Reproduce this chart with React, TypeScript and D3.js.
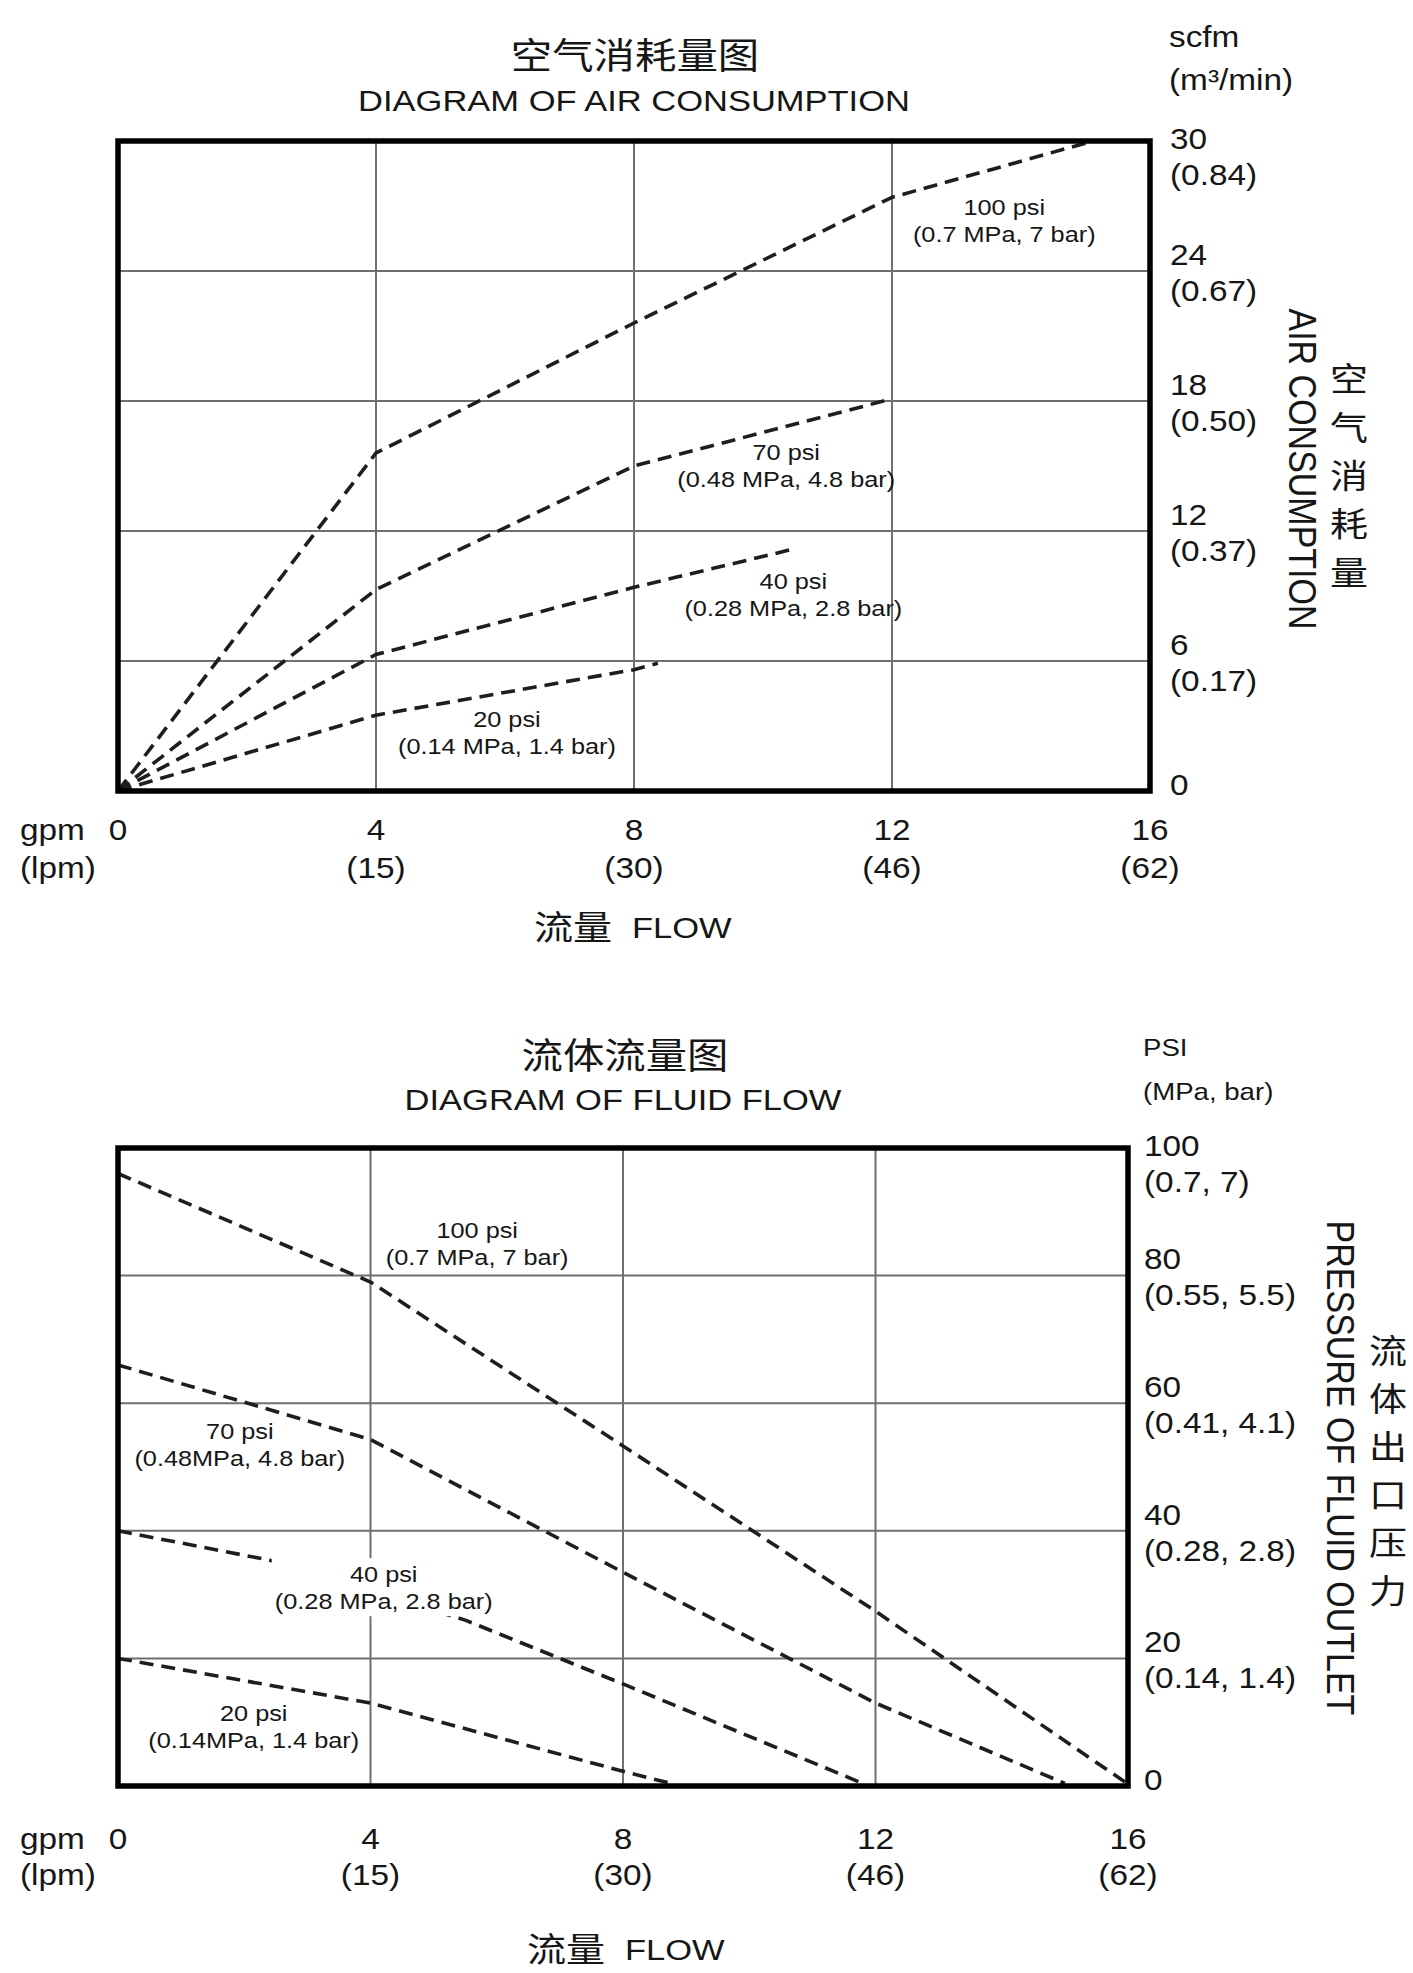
import React from "react";
import * as d3 from "d3";

// ---------- data ----------
const flowTicks = [0, 4, 8, 12, 16];
const flowLpm = ["", "(15)", "(30)", "(46)", "(62)"];

const airTicks = [0, 6, 12, 18, 24, 30];
const airM3 = ["", "(0.17)", "(0.37)", "(0.50)", "(0.67)", "(0.84)"];

const pressTicks = [0, 20, 40, 60, 80, 100];
const pressMpaBar = ["", "(0.14, 1.4)", "(0.28, 2.8)", "(0.41, 4.1)", "(0.55, 5.5)", "(0.7, 7)"];

// Air consumption: [flow gpm, air scfm]
const air100: [number, number][] = [[0, 0], [4, 15.6], [8, 21.6], [12, 27.4], [15, 29.9]];
const air70: [number, number][] = [[0, 0], [4, 9.3], [8, 15.0], [12, 18.1]];
const air40: [number, number][] = [[0, 0], [4, 6.3], [8, 9.4], [10.45, 11.15]];
const air20: [number, number][] = [[0, 0], [4, 3.5], [8, 5.6], [8.37, 5.9]];

// Fluid flow: [flow gpm, outlet pressure psi]
const fluid100: [number, number][] = [[0, 96], [4, 79], [8, 53.3], [12, 27.4], [16, 0.3]];
const fluid70: [number, number][] = [[0, 66], [4, 54.3], [8, 33.5], [12, 13], [15, 0.4]];
const fluid40: [number, number][] = [[0, 40], [2.4, 35.4], [5.5, 26], [8, 16], [11.8, 0.4]];
const fluid20: [number, number][] = [[0, 20], [4, 13], [8, 2.3], [8.8, 0.3]];

const airLabels = [
  ["100 psi", "(0.7 MPa, 7 bar)"],
  ["70 psi", "(0.48 MPa, 4.8 bar)"],
  ["40 psi", "(0.28 MPa, 2.8 bar)"],
  ["20 psi", "(0.14 MPa, 1.4 bar)"],
];
const fluidLabels = [
  ["100 psi", "(0.7 MPa, 7 bar)"],
  ["70 psi", "(0.48MPa, 4.8 bar)"],
  ["40 psi", "(0.28 MPa, 2.8 bar)"],
  ["20 psi", "(0.14MPa, 1.4 bar)"],
];
// label anchors in data units (flow, value)
const airLabelAt: [number, number][] = [[13.74, 26.95], [10.36, 15.6], [10.47, 9.65], [6.03, 3.28]];
const fluidLabelAt: [number, number][] = [[5.69, 87.1], [1.93, 55.5], [4.21, 33.2], [2.15, 11.4]];

// ---------- style ----------
const INK = "#161616";
const LATIN = "'Liberation Sans', Arial, Helvetica, sans-serif";
const CJK = "'Noto Sans CJK SC', 'Noto Sans CJK JP', sans-serif";
const SX = 1.15;

function T({ x, y, size, anchor = "start", family = LATIN, children }: any) {
  return (
    <text
      transform={`translate(${x},${y}) scale(${SX},1)`}
      textAnchor={anchor}
      dominantBaseline="central"
      fontSize={size}
      fontFamily={family}
      fill={INK}
    >
      {children}
    </text>
  );
}

function Chart(props: any) {
  const {
    left, right, top, bottom, yMax, yTicks, ySub, series, labels, labelAt, knockout,
    tickX, unit1, unit2, unitY1, unitY2, unitSize,
    xNumY, xSubY, flowTitleY, flowTitleX,
    titleCn, titleEn, titleCnX, titleCnY, titleEnX, titleEnY,
    vEn, vEnX, vEnY, vCn, vCnX, vCnY0, vCnStep,
  } = props;
  const x = d3.scaleLinear().domain([0, 16]).range([left, right]);
  const y = d3.scaleLinear().domain([0, yMax]).range([bottom, top]);
  const line = d3.line<[number, number]>().x((d) => x(d[0])).y((d) => y(d[1]));
  const n = yTicks.length;

  return (
    <g>
      {/* grid */}
      {flowTicks.slice(1, -1).map((t: number) => (
        <line key={"gx" + t} x1={x(t)} x2={x(t)} y1={top} y2={bottom} stroke="#6f6f6f" strokeWidth={2} />
      ))}
      {yTicks.slice(1, -1).map((t: number) => (
        <line key={"gy" + t} x1={left} x2={right} y1={y(t)} y2={y(t)} stroke="#6f6f6f" strokeWidth={2} />
      ))}
      {/* series */}
      {series.map((s: [number, number][], i: number) => (
        <path key={"s" + i} d={line(s) || ""} fill="none" stroke="#1e1e1e" strokeWidth={3.6} strokeDasharray="14,8" />
      ))}
      {/* labels */}
      {labels.map((lab: string[], i: number) => {
        const lx = x(labelAt[i][0]);
        const ly = y(labelAt[i][1]);
        return (
          <g key={"l" + i}>
            {knockout.includes(i) && (
              <rect x={lx - 112} y={ly - 16} width={224} height={58} fill="#fff" />
            )}
            <T x={lx} y={ly} size={22} anchor="middle">{lab[0]}</T>
            <T x={lx} y={ly + 27} size={22} anchor="middle">{lab[1]}</T>
          </g>
        );
      })}
      {/* frame */}
      <rect x={left} y={top} width={right - left} height={bottom - top} fill="none" stroke="#000" strokeWidth={5.5} />
      {/* right ticks */}
      {yTicks.map((t: number, i: number) => {
        let dn = -16, dp = 20;
        if (i === n - 1) { dn = -2; dp = 34; }
        if (t === 0) dn = -6;
        return (
          <g key={"yt" + t}>
            <T x={tickX} y={y(t) + dn} size={29}>{String(t)}</T>
            {ySub[i] && <T x={tickX} y={y(t) + dp} size={29}>{ySub[i]}</T>}
          </g>
        );
      })}
      <T x={tickX - 1} y={unitY1} size={unitSize}>{unit1}</T>
      <T x={tickX - 1} y={unitY2} size={unitSize}>{unit2}</T>
      {/* x ticks */}
      {flowTicks.map((t: number, i: number) => (
        <g key={"xt" + t}>
          <T x={x(t)} y={xNumY} size={29} anchor="middle">{String(t)}</T>
          {flowLpm[i] && <T x={x(t)} y={xSubY} size={29} anchor="middle">{flowLpm[i]}</T>}
        </g>
      ))}
      <T x={20} y={xNumY} size={29}>gpm</T>
      <T x={20} y={xSubY} size={29}>(lpm)</T>
      <T x={flowTitleX} y={flowTitleY} size={34} family={CJK}>流量</T>
      <T x={flowTitleX + 98} y={flowTitleY + 2} size={30}>FLOW</T>
      {/* titles */}
      <T x={titleCnX} y={titleCnY} size={36} anchor="middle" family={CJK}>{titleCn}</T>
      <T x={titleEnX} y={titleEnY} size={30} anchor="middle">{titleEn}</T>
      {/* vertical axis titles */}
      <text
        transform={`translate(${vEnX},${vEnY}) rotate(90) scale(1,${SX})`}
        textAnchor="middle"
        dominantBaseline="central"
        fontSize={34}
        fontFamily={LATIN}
        fill={INK}
      >
        {vEn}
      </text>
      {Array.from(vCn as string).map((ch, i) => (
        <T key={"vc" + i} x={vCnX} y={vCnY0 + i * vCnStep} size={33} anchor="middle" family={CJK}>{ch}</T>
      ))}
    </g>
  );
}

export default function App() {
  return (
    <svg
      width={1413}
      height={1973}
      viewBox="0 0 1413 1973"
      style={{ position: "absolute", left: 0, top: 0, background: "#fff", display: "block" }}
    >
      <rect x={0} y={0} width={1413} height={1973} fill="#fff" />
      <Chart
        left={118} right={1150} top={141} bottom={791}
        yMax={30} yTicks={airTicks} ySub={airM3}
        series={[air100, air70, air40, air20]}
        labels={airLabels} labelAt={airLabelAt} knockout={[]}
        tickX={1170} unit1="scfm" unit2="(m³/min)" unitY1={37} unitY2={80} unitSize={29}
        xNumY={830} xSubY={868} flowTitleX={534} flowTitleY={926}
        titleCn="空气消耗量图" titleEn="DIAGRAM OF AIR CONSUMPTION"
        titleCnX={635} titleCnY={53} titleEnX={634} titleEnY={101}
        vEn="AIR CONSUMPTION" vEnX={1302} vEnY={469}
        vCn="空气消耗量" vCnX={1349} vCnY0={377} vCnStep={48.3}
      />
      <Chart
        left={118} right={1128} top={1148} bottom={1786}
        yMax={100} yTicks={pressTicks} ySub={pressMpaBar}
        series={[fluid100, fluid70, fluid40, fluid20]}
        labels={fluidLabels} labelAt={fluidLabelAt} knockout={[2]}
        tickX={1144} unit1="PSI" unit2="(MPa, bar)" unitY1={1048} unitY2={1092} unitSize={24}
        xNumY={1839} xSubY={1875} flowTitleX={527} flowTitleY={1948}
        titleCn="流体流量图" titleEn="DIAGRAM OF FLUID FLOW"
        titleCnX={625} titleCnY={1053} titleEnX={623} titleEnY={1100}
        vEn="PRESSURE OF FLUID OUTLET" vEnX={1340} vEnY={1468}
        vCn="流体出口压力" vCnX={1388} vCnY0={1349} vCnStep={48}
      />
    </svg>
  );
}
